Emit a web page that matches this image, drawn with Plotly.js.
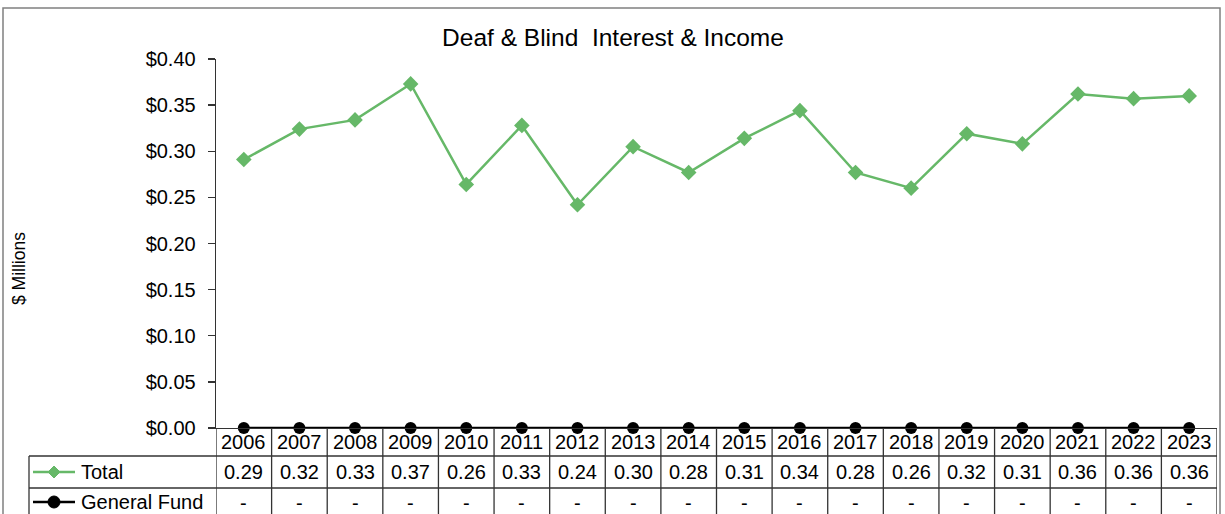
<!DOCTYPE html>
<html>
<head>
<meta charset="utf-8">
<script src="https://cdn.plot.ly/plotly-3.0.1.min.js"></script>
<style>html,body{margin:0;padding:0;background:#fff;}#chart{width:1225px;height:514px;}</style>
</head>
<body>
<div id="chart"></div>
<script>
// ---- data ----
const years = ["2006","2007","2008","2009","2010","2011","2012","2013","2014","2015","2016","2017","2018","2019","2020","2021","2022","2023"];
const totalValues = [0.291, 0.324, 0.334, 0.373, 0.264, 0.328, 0.242, 0.305, 0.277, 0.314, 0.344, 0.277, 0.260, 0.319, 0.308, 0.362, 0.357, 0.360];
const generalFundValues = [0, 0, 0, 0, 0, 0, 0, 0, 0, 0, 0, 0, 0, 0, 0, 0, 0, 0];
const seriesNames = ["Total", "General Fund"];
const chartTitle = "Deaf &amp; Blind\u00a0 Interest &amp; Income";
const yAxisTitle = "$ Millions";

// ---- layout geometry (pixels) ----
const W = 1225, H = 514;
const L = 216, R = 8, T = 59, B = 86;
const plotW = W - L - R, plotH = H - T - B;
const px2x = p => (p - L) / plotW;
const py2y = p => (H - B - p) / plotH;

const FONT = "Liberation Sans, Arial, sans-serif";
const GREEN = "#66b868";
const LINE = "#333333";

const idx = years.map((_, i) => i);
const n = years.length;

const fmtVal = v => v === 0 ? "-" : v.toFixed(2);

const traces = [
  {
    x: idx, y: totalValues, name: seriesNames[0], type: "scatter", mode: "lines+markers",
    line: {color: GREEN, width: 2.5},
    marker: {symbol: "diamond", size: 12, color: GREEN},
    cliponaxis: false, hoverinfo: "skip"
  },
  {
    x: idx, y: generalFundValues, name: seriesNames[1], type: "scatter", mode: "lines+markers",
    line: {color: "#000000", width: 2.5},
    marker: {symbol: "circle", size: 12, color: "#000000"},
    cliponaxis: false, hoverinfo: "skip"
  }
];

const shapes = [];
const annotations = [];

// outer chart border
shapes.push({type: "rect", xref: "paper", yref: "paper",
  x0: px2x(3), x1: px2x(1220), y0: py2y(8), y1: py2y(530),
  line: {color: "#808080", width: 1.5}, fillcolor: "rgba(0,0,0,0)", layer: "below"});

// data table rows
const rowTotal = 456, rowGF = 488, rowEnd = 530;
const tableLeft = 29;
[rowTotal, rowGF].forEach(yp => shapes.push({type: "line", xref: "paper", yref: "paper",
  x0: px2x(tableLeft), x1: 1, y0: py2y(yp), y1: py2y(yp), line: {color: LINE, width: 1.3}}));
shapes.push({type: "line", xref: "paper", yref: "paper",
  x0: px2x(tableLeft), x1: px2x(tableLeft), y0: py2y(rowTotal), y1: py2y(rowEnd), line: {color: LINE, width: 1.3}});
for (let i = 0; i <= n; i++) {
  shapes.push({type: "line", xref: "x", yref: "paper",
    x0: i - 0.5, x1: i - 0.5, y0: 0, y1: py2y(rowEnd), line: {color: LINE, width: 1.3}});
}

// table text
years.forEach((yr, i) => {
  annotations.push({x: i, xref: "x", y: py2y(442), yref: "paper", text: yr, showarrow: false,
    xanchor: "center", yanchor: "middle", font: {family: FONT, size: 20, color: "#000"}});
  annotations.push({x: i, xref: "x", y: py2y(472), yref: "paper", text: fmtVal(totalValues[i]), showarrow: false,
    xanchor: "center", yanchor: "middle", font: {family: FONT, size: 20, color: "#000"}});
  annotations.push({x: i, xref: "x", y: py2y(503), yref: "paper", text: fmtVal(generalFundValues[i]), showarrow: false,
    xanchor: "center", yanchor: "middle", font: {family: FONT, size: 20, color: "#000"}});
});

// legend keys in the table
const keyRows = [472, 502];
const keyColors = [GREEN, "#000000"];
seriesNames.forEach((nm, k) => {
  const yp = keyRows[k];
  shapes.push({type: "line", xref: "paper", yref: "paper",
    x0: px2x(33), x1: px2x(75), y0: py2y(yp), y1: py2y(yp), line: {color: keyColors[k], width: 2.5}});
  annotations.push({x: px2x(79), xref: "paper", y: py2y(yp), yref: "paper", text: nm, showarrow: false,
    xanchor: "left", yanchor: "middle", font: {family: FONT, size: 20, color: "#000"}});
});
shapes.push({type: "path", xref: "paper", yref: "paper",
  path: `M ${px2x(48)} ${py2y(472)} L ${px2x(54)} ${py2y(466)} L ${px2x(60)} ${py2y(472)} L ${px2x(54)} ${py2y(478)} Z`,
  fillcolor: GREEN, line: {color: GREEN, width: 1}});
shapes.push({type: "circle", xref: "paper", yref: "paper",
  x0: px2x(48), x1: px2x(60), y0: py2y(508), y1: py2y(496),
  fillcolor: "#000", line: {color: "#000", width: 1}});

// y axis title
annotations.push({x: px2x(19), xref: "paper", y: py2y(269), yref: "paper", text: yAxisTitle, showarrow: false,
  textangle: -90, xanchor: "center", yanchor: "middle", font: {family: FONT, size: 17.5, color: "#000"}});

const layout = {
  width: W, height: H,
  margin: {l: L, r: R, t: T, b: B, pad: 0},
  paper_bgcolor: "#ffffff", plot_bgcolor: "#ffffff",
  showlegend: false,
  font: {family: FONT, color: "#000"},
  title: {text: chartTitle, font: {family: FONT, size: 24.5, color: "#000"},
    xref: "container", x: 613 / W, yref: "container", y: 1 - 37 / H, xanchor: "center", yanchor: "middle"},
  xaxis: {range: [-0.5, n - 0.5], showgrid: false, zeroline: false, showticklabels: false,
    ticks: "", showline: true, linecolor: LINE, linewidth: 1.3, fixedrange: true},
  yaxis: {range: [0, 0.4], dtick: 0.05, tickformat: "$.2f", showgrid: false, zeroline: false,
    showline: true, linecolor: LINE, linewidth: 1.3, ticks: "outside", ticklen: 7, tickcolor: LINE,
    tickwidth: 1.3, ticklabelstandoff: 8,
    tickfont: {family: FONT, size: 20, color: "#000"}, fixedrange: true},
  shapes: shapes,
  annotations: annotations
};

Plotly.newPlot("chart", traces, layout, {displayModeBar: false, staticPlot: true});
</script>
</body>
</html>
